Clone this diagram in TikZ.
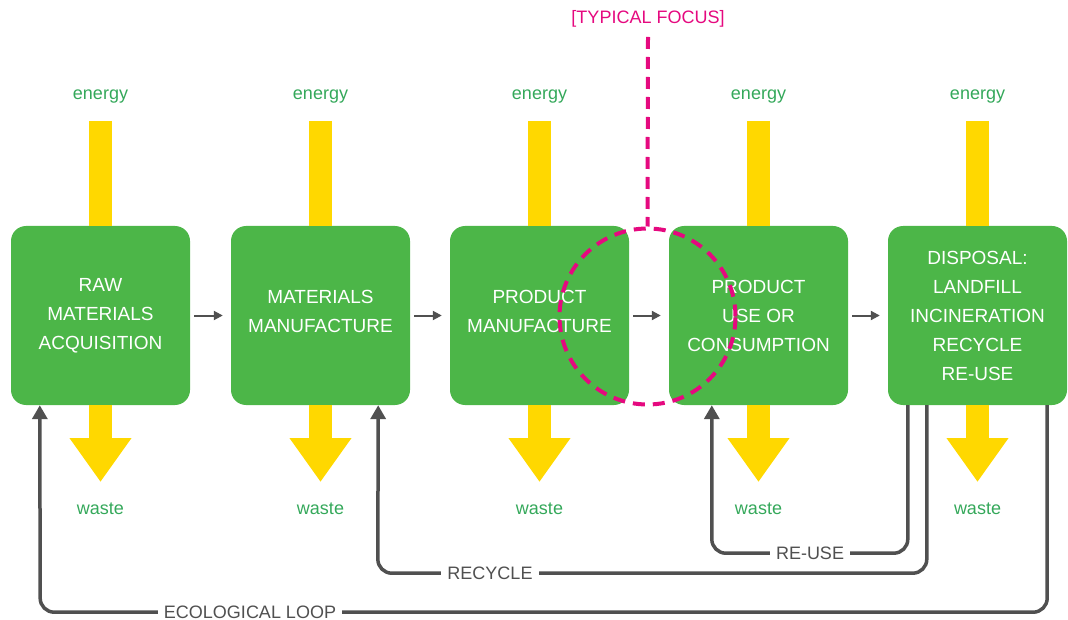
\documentclass[tikz,border=0pt]{standalone}
\usepackage{fontspec}
\setmainfont{Liberation Sans}
\usetikzlibrary{arrows.meta, positioning}

\definecolor{stagegreen}{RGB}{76,182,72}
\definecolor{flowyellow}{RGB}{255,216,0}
\definecolor{labelgreen}{RGB}{52,168,90}
\definecolor{loopgray}{RGB}{80,80,80}
\definecolor{focuspink}{RGB}{229,9,127}

\begin{document}
\begin{tikzpicture}[x=1pt, y=-1pt,
        stage/.style={rectangle, rounded corners=15pt, fill=stagegreen, text=white, minimum width=179pt, minimum height=179pt, align=center, font=\fontsize{19}{29}\selectfont},
        flowlbl/.style={text=labelgreen, font=\fontsize{18}{20}\selectfont},
        energybar/.style={draw=flowyellow, line width=23pt},
        wastearrow/.style={draw=flowyellow, line width=23pt, -{Triangle[length=44pt, width=59pt]}},
        nextarrow/.style={draw=loopgray, line width=2pt, -{Triangle[length=9pt, width=9pt]}},
        backloop/.style={draw=loopgray, line width=3.5pt, rounded corners=14pt, -{Triangle[length=14pt, width=15pt]}},
        looplbl/.style={fill=white, text=loopgray, inner xsep=6pt, inner ysep=0.5pt, font=\fontsize{18}{20}\selectfont},
        focusring/.style={circle, draw=focuspink, line width=4pt, dash pattern=on 12pt off 8pt, minimum size=176pt},
        focusline/.style={draw=focuspink, line width=4pt, dash pattern=on 12pt off 8pt}
    ]
        \useasboundingbox (0,0) rectangle (1068,620);

        % Stages
        \node[stage] (raw) at (100.5,315.5) {RAW\\MATERIALS\\ACQUISITION};
        \node[stage, text depth=9pt] (matman) at (320.5,315.5) {MATERIALS\\MANUFACTURE};
        \node[stage, text depth=9pt] (prodman) at (539.5,315.5) {PRODUCT\\MANUFACTURE};
        \node[stage] (prodcons) at (758.5,315.5) {PRODUCT\\USE OR\\CONSUMPTION};
        \node[stage] (disp) at (977.5,315.5) {DISPOSAL:\\LANDFILL\\INCINERATION\\RECYCLE\\RE-USE};

        % Energy in
        \node[flowlbl] (e1) at (100.5,97) {energy};
        \node[flowlbl] (e2) at (320.5,97) {energy};
        \node[flowlbl] (e3) at (539.5,97) {energy};
        \node[flowlbl] (e4) at (758.5,97) {energy};
        \node[flowlbl] (e5) at (977.5,97) {energy};
        \draw[energybar] ([yshift=-24pt]e1.center) -- (raw.north);
        \draw[energybar] ([yshift=-24pt]e2.center) -- (matman.north);
        \draw[energybar] ([yshift=-24pt]e3.center) -- (prodman.north);
        \draw[energybar] ([yshift=-24pt]e4.center) -- (prodcons.north);
        \draw[energybar] ([yshift=-24pt]e5.center) -- (disp.north);

        % Waste out
        \node[flowlbl] (w1) at (100.5,509) {waste};
        \node[flowlbl] (w2) at (320.5,509) {waste};
        \node[flowlbl] (w3) at (539.5,509) {waste};
        \node[flowlbl] (w4) at (758.5,509) {waste};
        \node[flowlbl] (w5) at (977.5,509) {waste};
        \draw[wastearrow] (raw.south) -- ([yshift=27pt]w1.center);
        \draw[wastearrow] (matman.south) -- ([yshift=27pt]w2.center);
        \draw[wastearrow] (prodman.south) -- ([yshift=27pt]w3.center);
        \draw[wastearrow] (prodcons.south) -- ([yshift=27pt]w4.center);
        \draw[wastearrow] (disp.south) -- ([yshift=27pt]w5.center);

        % Stage to stage
        \draw[nextarrow] ([xshift=4pt]raw.east) -- ([xshift=-8pt]matman.west);
        \draw[nextarrow] ([xshift=4pt]matman.east) -- ([xshift=-8pt]prodman.west);
        \draw[nextarrow] ([xshift=4pt]prodman.east) -- ([xshift=-8pt]prodcons.west);
        \draw[nextarrow] ([xshift=4pt]prodcons.east) -- ([xshift=-8pt]disp.west);

        % Typical focus
        \node[focusring] (focus) at (647.5,316.5) {};
        \node[text=focuspink, font=\fontsize{18}{20}\selectfont] (focuslbl) at (648,19) {[TYPICAL FOCUS]};
        \draw[focusline] ([yshift=-18pt]focuslbl.center) -- (focus.north);

        % Loops back
        \draw[backloop] ([xshift=20pt]disp.south west) -- ++(0,148) -- ++(-196,0) -- ([xshift=43pt]prodcons.south west);
        \draw[backloop] ([xshift=39pt]disp.south west) -- ++(0,168) -- ++(-549,0) -- ([xshift=-32pt]matman.south east);
        \draw[backloop] ([xshift=-20pt]disp.south east) -- ++(0,207) -- ++(-1007,0) -- ([xshift=29pt]raw.south west);
        \node[looplbl] (reuselbl) at (810,553) {RE-USE};
        \node[looplbl] (recyclelbl) at (490,573) {RECYCLE};
        \node[looplbl] (ecolbl) at (250,612) {ECOLOGICAL LOOP};
    \end{tikzpicture}
\end{document}
